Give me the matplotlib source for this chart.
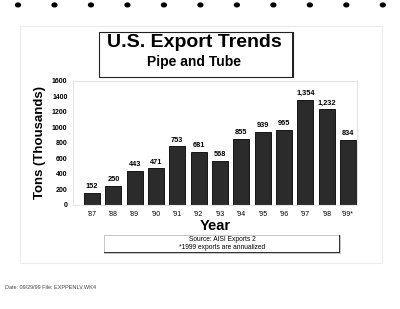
import matplotlib
matplotlib.use("Agg")
import matplotlib.pyplot as plt
import numpy as np
from matplotlib.patches import Rectangle

plt.rcParams['font.family'] = ['Liberation Sans', 'DejaVu Sans']

years = ["'87", "'88", "'89", "'90", "'91", "'92", "'93", "'94", "'95", "'96", "'97", "'98", "'99*"]
tons = [152, 250, 443, 471, 753, 681, 568, 855, 939, 965, 1354, 1232, 834]
yticks = [0, 200, 400, 600, 800, 1000, 1200, 1400, 1600]

fig = plt.figure(figsize=(4, 3.09), dpi=100)

# faint page border and punch holes
fig.patches.append(Rectangle((0.05, 0.15), 0.905, 0.765, transform=fig.transFigure,
                             fill=False, edgecolor='#ececec', linewidth=0.8))
for hx in np.linspace(0.045, 0.957, 11):
    fig.patches.append(plt.Circle((hx, 0.984), 0.006, transform=fig.transFigure,
                                  color='black'))

ax = fig.add_axes([0.1825, 0.3366, 0.71, 0.4023])
x = np.arange(len(years))
ax.bar(x, tons, width=0.75, color='#2b2b2b', edgecolor='black', linewidth=0.6)
for xi, v in zip(x, tons):
    ax.text(xi, v + 35, f"{v:,}", ha='center', va='bottom', fontsize=5.3, fontweight='bold')

ax.set_xlim(-0.89, 12.42)
ax.set_ylim(0, 1600)
ax.set_xticks(x)
ax.set_xticklabels(years, fontsize=5)
ax.set_yticks(yticks)
ax.set_yticklabels([str(t) for t in yticks], fontsize=5, fontweight='bold')
ax.tick_params(length=0, pad=4)
for s in ax.spines.values():
    s.set_color('#e4e4e4')
    s.set_linewidth(0.8)
ax.set_xlabel('Year', fontsize=10.5, fontweight='bold', labelpad=1)
ax.set_ylabel('Tons (Thousands)', fontsize=9.5, fontweight='bold', labelpad=4)

# title box
fig.patches.append(Rectangle((0.2475, 0.751), 0.485, 0.147, transform=fig.transFigure,
                             facecolor='white', edgecolor='#222222', linewidth=0.8))
fig.patches.append(Rectangle((0.73, 0.751), 0.005, 0.144, transform=fig.transFigure,
                             facecolor='#222222', edgecolor='none'))
fig.text(0.485, 0.864, 'U.S. Export Trends', ha='center', va='center',
         fontsize=14, fontweight='bold')
fig.text(0.485, 0.798, 'Pipe and Tube', ha='center', va='center',
         fontsize=10, fontweight='bold')

# source box
fig.patches.append(Rectangle((0.26, 0.182), 0.59, 0.058, transform=fig.transFigure,
                             facecolor='white', edgecolor='#bbbbbb', linewidth=0.6))
fig.patches.append(Rectangle((0.847, 0.182), 0.004, 0.058, transform=fig.transFigure,
                             facecolor='#333333', edgecolor='none'))
fig.patches.append(Rectangle((0.26, 0.18), 0.59, 0.004, transform=fig.transFigure,
                             facecolor='#333333', edgecolor='none'))
fig.text(0.555, 0.224, 'Source: AISI Exports 2', ha='center', va='center', fontsize=4.8)
fig.text(0.555, 0.198, '*1999 exports are annualized', ha='center', va='center', fontsize=4.8)

fig.text(0.012, 0.068, 'Date: 09/29/99 File: EXPPENLV.WK4', ha='left', va='center',
         fontsize=4, color='#444444')

fig.savefig('out.png', dpi=100)
